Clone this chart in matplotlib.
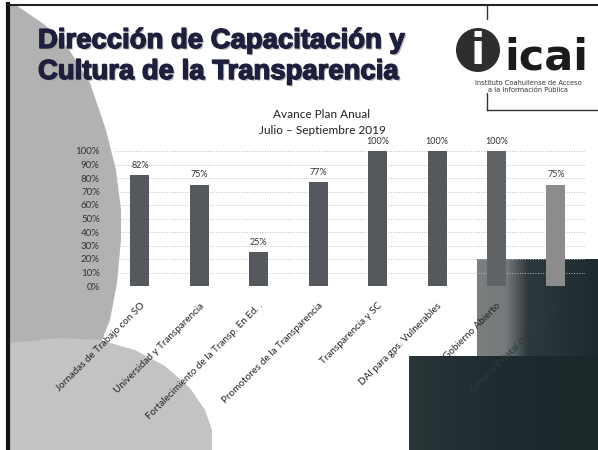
import numpy as np
import matplotlib.pyplot as plt
from matplotlib.patches import Polygon, Rectangle, Circle
from matplotlib.colors import LinearSegmentedColormap
import matplotlib.patheffects as pe

# datos del grafico
categorias = [
    "Jornadas de Trabajo con SO",
    "Universidad y Transparencia",
    "Fortalecimiento de la Transp. En Ed. .",
    "Promotores de la Transparencia",
    "Transparencia y SC",
    "DAI para gps. Vulnerables",
    "Gobierno Abierto",
    "Semana Estatal de la Transp.",
]
avance = [82, 75, 25, 77, 100, 100, 100, 75]
ticks_y = list(range(0, 101, 10))
etiquetas_y = [f"{v}%" for v in ticks_y]
titulo_slide = ["Dirección de Capacitación y", "Cultura de la Transparencia"]
titulo_grafico = ["Avance Plan Anual", "Julio – Septiembre 2019"]
logo_texto = ["Instituto Coahuilense de Acceso", "a la Información Pública"]

W, H = 598, 450
fig = plt.figure(figsize=(W / 100, H / 100), dpi=100)
fig.patch.set_facecolor("white")

# fondo de la diapositiva en pixeles
bg = fig.add_axes([0, 0, 1, 1], zorder=0)
bg.axis("off")

bg.add_patch(Polygon([(10, 5), (16, 5), (45, 25), (68, 48), (90, 83), (106, 130),
                      (116, 170), (121, 210), (121, 240), (117, 283), (110, 320),
                      (100, 345), (10, 360)], closed=True, fc="#b2b2b2", ec="none"))
bg.add_patch(Polygon([(10, 343), (60, 338), (100, 340), (135, 350), (165, 366),
                      (190, 388), (205, 410), (212, 430), (212, 450), (10, 450)],
                     closed=True, fc="#c3c3c3", ec="none"))

# bloques oscuros abajo a la derecha
cm = LinearSegmentedColormap.from_list(
    "g", [(0, "#7c7f80"), (0.24, "#74797a"), (0.42, "#2c3a3d"), (1, "#1d2b2e")])
bg.imshow(np.linspace(0, 1, 200)[None, :], cmap=cm, aspect="auto",
          extent=(477, 598, 357, 259), zorder=1)
cm2 = LinearSegmentedColormap.from_list("g2", ["#2a3638", "#1e2b2e", "#1b2729"])
bg.imshow(np.linspace(0, 1, 200)[None, :], cmap=cm2, aspect="auto",
          extent=(409, 598, 450, 356), zorder=1)
bg.set_xlim(0, W)
bg.set_ylim(H, 0)

# marco
bg.plot([8, 8], [4, 450], color="#111111", lw=3, zorder=3)
bg.plot([8, 598], [5, 5], color="#222222", lw=1.5, zorder=3)
bg.plot([487, 487], [5, 110], color="#333333", lw=1, zorder=3)
bg.plot([487, 598], [110, 110], color="#333333", lw=1, zorder=3)

# titulo de la diapositiva
for i, linea in enumerate(titulo_slide):
    bg.text(38, 48 + i * 31, linea, fontsize=19.8, fontweight="heavy",
            family="Liberation Sans", color="#1e1f3c", va="baseline", zorder=4,
            path_effects=[pe.withSimplePatchShadow(offset=(1.2, -1.2), shadow_rgbFace="#a0a0a0", alpha=0.7),
                          pe.withStroke(linewidth=1.0, foreground="#1e1f3c")])

# logo
bg.add_patch(Rectangle((452, 20), 140, 73, fc="white", ec="none", zorder=3))
bg.add_patch(Circle((478, 50), 22, fc="#2e2e2e", ec="none", zorder=4))
bg.text(478, 52, "i", fontsize=30, fontweight="bold", color="white", ha="center",
        va="center", family="DejaVu Sans", zorder=5)
bg.text(546, 70, "icai", fontsize=31, fontweight="bold", color="#1b1b1b", ha="center",
        va="baseline", family="DejaVu Sans", zorder=5)
bg.text(528, 83, logo_texto[0], fontsize=4.8, color="#333333", ha="center", va="center", zorder=5)
bg.text(528, 90, logo_texto[1], fontsize=4.8, color="#333333", ha="center", va="center", zorder=5)

# titulo del grafico
bg.text(322, 115, titulo_grafico[0], fontsize=8.5, family="Lato", color="#222222",
        ha="center", va="center", zorder=4)
bg.text(322, 130, titulo_grafico[1], fontsize=8.5, family="Lato", color="#222222",
        ha="center", va="center", zorder=4)

# grafico de barras
ax = fig.add_axes([115 / W, 1 - 286 / H, 470 / W, 135 / H], zorder=2)
ax.patch.set_alpha(0)
x = np.arange(len(categorias))
colores = ["#55595d"] * 6 + ["#606466", "#8c8c8c"]
bars = ax.bar(x, avance, width=0.32, color=colores, zorder=3)
for b, v in zip(bars, avance):
    ax.text(b.get_x() + b.get_width() / 2, v + 4, f"{v}%", ha="center", va="bottom",
            fontsize=6.5, family="Lato", color="#333333")

ax.set_xlim(-0.42, 7.49)
ax.set_ylim(0, 100)
ax.set_yticks(ticks_y)
ax.set_yticklabels(etiquetas_y, family="Lato", fontsize=7, color="#333333")
ax.set_xticks(x)
ax.set_xticklabels(categorias, rotation=45, ha="right", rotation_mode="anchor",
                   family="Lato", fontsize=7.1, color="#222222")
ax.get_xticklabels()[-1].set_color("#2f3b3d")
ax.tick_params(axis="both", length=0)
ax.tick_params(axis="y", pad=11)
ax.tick_params(axis="x", pad=11)
ax.grid(axis="y", linestyle=":", color="#bdbdbd", lw=0.7, zorder=0)
for s in ax.spines.values():
    s.set_visible(False)

fig.savefig("out.png", dpi=100)
